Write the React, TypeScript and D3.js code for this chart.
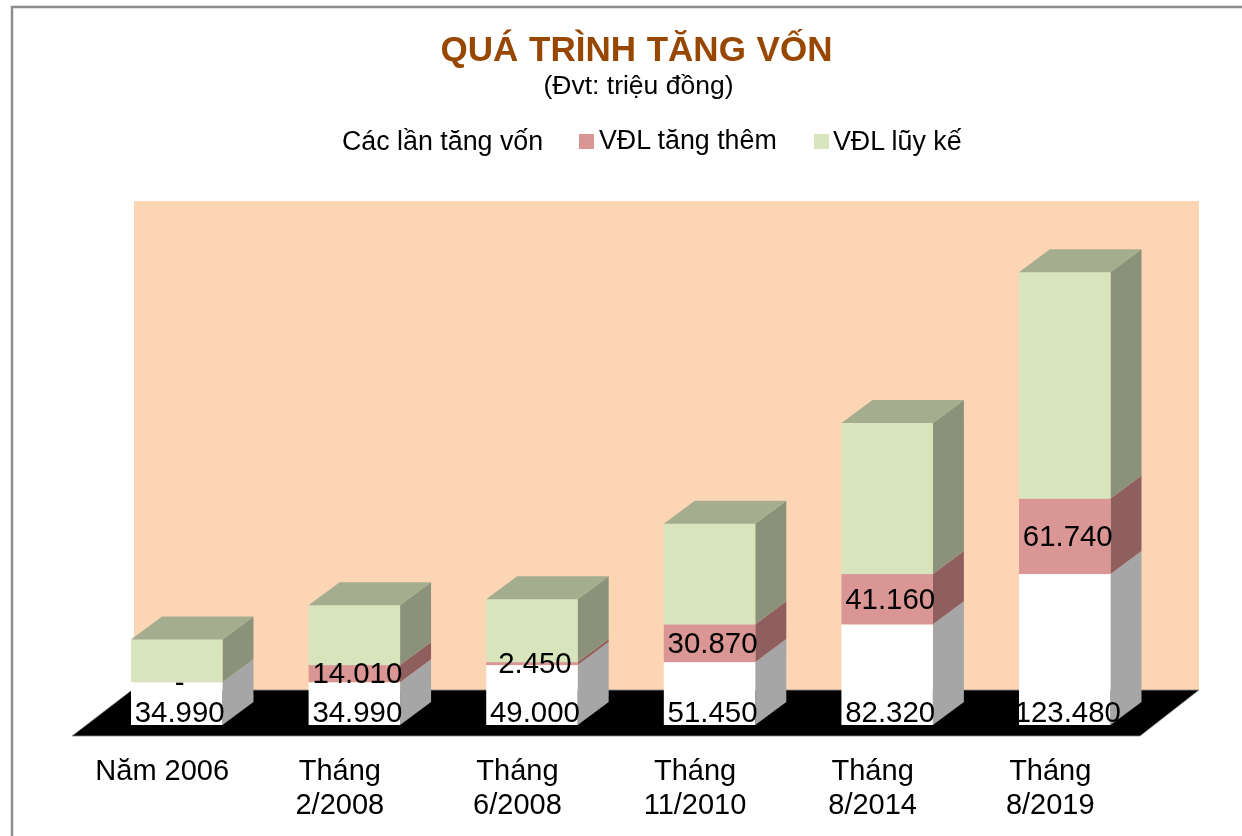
import React, { useEffect, useRef } from "react";
import * as d3 from "d3";

const categories = ["Năm 2006", "Tháng 2/2008", "Tháng 6/2008", "Tháng 11/2010", "Tháng 8/2014", "Tháng 8/2019"];
const base = [34990, 34990, 49000, 51450, 82320, 123480];
const added = [0, 14010, 2450, 30870, 41160, 61740];
const cumulative = [34990, 49000, 51450, 82320, 123480, 185220];

const seriesKeys = ["base", "added", "cumulative"];
const legendItems = ["VĐL tăng thêm", "VĐL lũy kế"];

const width = 1242;
const height = 836;
const font = "'Liberation Sans', Arial, sans-serif";

// fake 3D offsets, same look as the Excel chart
const depthX = 31;
const depthY = 23;

const colors = {
  base: { front: "#ffffff", side: "#a6a6a6", top: "#c8c8c8" },
  added: { front: "#d99694", side: "#8f5f5f", top: "#ad7776" },
  cumulative: { front: "#d7e4bc", side: "#8a937a", top: "#a4ae8f" },
};

const fmt = (v: number) => (v === 0 ? "-" : d3.format(",")(v).replace(/,/g, "."));

const App = () => {
  const svgRef = useRef<SVGSVGElement>(null);

  useEffect(() => {
    const root = d3.select(svgRef.current);
    root.selectAll("*").remove();

    // the reference is an upscaled screenshot, so everything is a little soft
    root.append("defs").append("filter")
      .attr("id", "soft")
      .attr("x", 0).attr("y", 0).attr("width", 1).attr("height", 1)
      .attr("filterUnits", "userSpaceOnUse")
      .attr("width", width).attr("height", height)
      .append("feGaussianBlur")
      .attr("stdDeviation", 0.45);
    const svg = root.append("g").attr("filter", "url(#soft)");

    const x = d3.scaleBand().domain(categories).range([131, 1110.5]).paddingInner(0.485).paddingOuter(0);
    const y = d3.scaleLinear().domain([0, 400000]).range([725, 236]);

    const rows = categories.map((c, i) => ({ category: c, base: base[i], added: added[i], cumulative: cumulative[i] }));
    const stacked = d3.stack<any>().keys(seriesKeys)(rows);

    // chart frame, runs off the right and bottom of the screenshot
    svg.append("path")
      .attr("d", "M12,836V7H1242")
      .attr("fill", "none")
      .attr("stroke", "#8c8c8c")
      .attr("stroke-width", 2.4);

    // back wall and floor
    svg.append("rect")
      .attr("x", 134).attr("y", 201)
      .attr("width", 1065).attr("height", 489)
      .attr("fill", "#fcd5b5");

    const poly = d3.line();
    svg.append("path")
      .attr("d", poly([[132, 690], [1199, 690], [1140, 736], [72, 736]]) + "Z")
      .attr("fill", "#000000")
      .attr("stroke", "#8c8c8c")
      .attr("stroke-width", 0.8);

    // bars, from the bottom segment up
    const bars = svg.append("g");
    stacked.forEach((layer) => {
      const c = colors[layer.key as keyof typeof colors];
      layer.forEach((d) => {
        const x0 = x(d.data.category)!;
        const x1 = x0 + x.bandwidth();
        const y0 = y(d[0]);
        const y1 = y(d[1]);
        bars.append("path")
          .attr("d", poly([[x1, y0], [x1 + depthX, y0 - depthY], [x1 + depthX, y1 - depthY], [x1, y1]]) + "Z")
          .attr("fill", c.side);
        bars.append("rect")
          .attr("x", x0).attr("y", y1)
          .attr("width", x.bandwidth()).attr("height", y0 - y1)
          .attr("fill", c.front);
        if (layer.key === "cumulative") {
          bars.append("path")
            .attr("d", poly([[x0, y1], [x0 + depthX, y1 - depthY], [x1 + depthX, y1 - depthY], [x1, y1]]) + "Z")
            .attr("fill", c.top);
        }
      });
    });

    // data labels: the base one sits on the floor, the added one mid segment
    const labels = svg.append("g")
      .attr("font-family", font)
      .attr("font-size", 29.4)
      .attr("fill", "#000000")
      .attr("text-anchor", "middle");
    const center = (c: string) => x(c)! + x.bandwidth() / 2 + 3;
    stacked[0].forEach((d, i) => {
      labels.append("text")
        .attr("x", center(d.data.category))
        .attr("y", 722)
        .text(fmt(base[i]));
    });
    stacked[1].forEach((d, i) => {
      labels.append("text")
        .attr("x", center(d.data.category))
        .attr("y", (y(d[0]) + y(d[1])) / 2 + 9.5)
        .text(fmt(added[i]));
    });

    // category labels
    const axis = svg.append("g")
      .attr("font-family", font)
      .attr("font-size", 29)
      .attr("fill", "#000000")
      .attr("text-anchor", "middle");
    categories.forEach((c) => {
      const parts = c.startsWith("Tháng") ? c.split(" ") : [c];
      const t = axis.append("text").attr("x", x(c)! + x.bandwidth() / 2 - 14.5).attr("y", 780);
      parts.forEach((p, i) => {
        t.append("tspan")
          .attr("x", x(c)! + x.bandwidth() / 2 - 14.5)
          .attr("dy", i === 0 ? 0 : 34)
          .text(p);
      });
    });

    // title
    svg.append("text")
      .attr("x", 636.5).attr("y", 61)
      .attr("text-anchor", "middle")
      .attr("font-family", font).attr("font-weight", 700).attr("font-size", 35)
      .attr("word-spacing", 1)
      .attr("fill", "#974706")
      .text("QUÁ TRÌNH TĂNG VỐN");
    svg.append("text")
      .attr("x", 638.5).attr("y", 94)
      .attr("text-anchor", "middle")
      .attr("font-family", font).attr("font-size", 26.5)
      .attr("fill", "#000000")
      .text("(Đvt: triệu đồng)");

    // legend
    const legend = svg.append("g")
      .attr("font-family", font)
      .attr("font-size", 26.8)
      .attr("fill", "#000000");
    legend.append("text").attr("x", 342).attr("y", 150).text("Các lần tăng vốn");
    legend.append("rect").attr("x", 579).attr("y", 134).attr("width", 15).attr("height", 15).attr("fill", colors.added.front);
    legend.append("text").attr("x", 599).attr("y", 149).text(legendItems[0]);
    legend.append("rect").attr("x", 814).attr("y", 134).attr("width", 15).attr("height", 15).attr("fill", colors.cumulative.front);
    legend.append("text").attr("x", 833).attr("y", 150).text(legendItems[1]);
  }, []);

  return (
    <svg
      ref={svgRef}
      width={width}
      height={height}
      viewBox={`0 0 ${width} ${height}`}
      style={{ position: "absolute", left: 0, top: 0, background: "#ffffff" }}
    />
  );
};

export default App;
